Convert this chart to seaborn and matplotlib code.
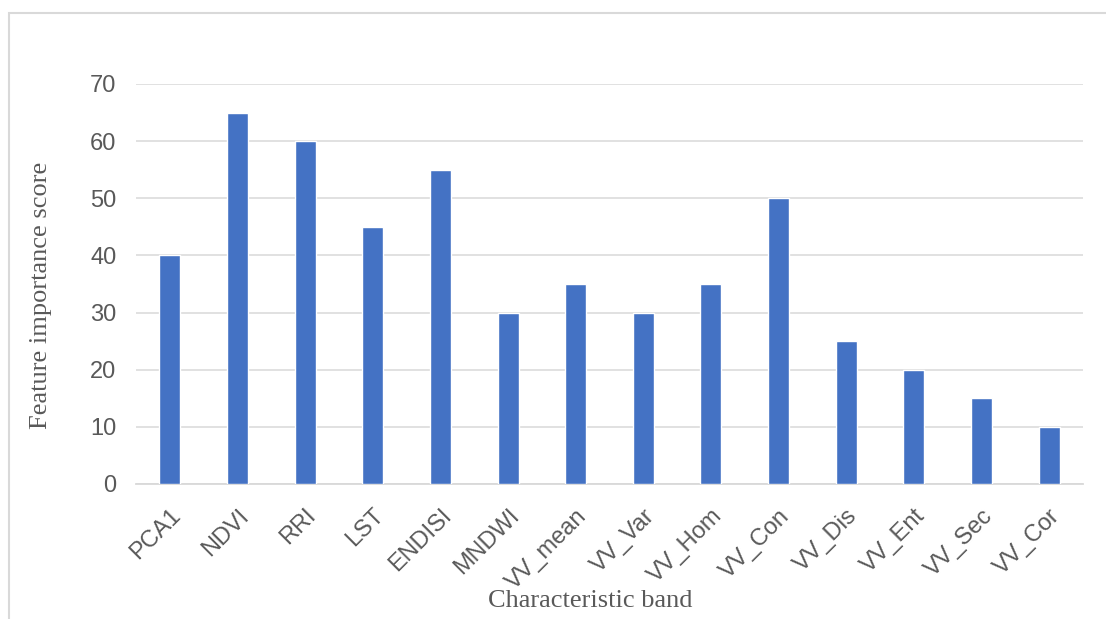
import matplotlib
matplotlib.use("Agg")
import matplotlib.pyplot as plt
import seaborn as sns
import pandas as pd
from matplotlib.patches import Rectangle

bands = ["PCA1", "NDVI", "RRI", "LST", "ENDISI", "MNDWI", "VV_mean", "VV_Var",
         "VV_Hom", "VV_Con", "VV_Dis", "VV_Ent", "VV_Sec", "VV_Cor"]
scores = [40, 65, 60, 45, 55, 30, 35, 30, 35, 50, 25, 20, 15, 10]
yticks = [0, 10, 20, 30, 40, 50, 60, 70]

df = pd.DataFrame({"band": bands, "score": scores})

sns.set_theme(style="white")
plt.rcParams["font.family"] = ["Liberation Sans", "DejaVu Sans"]

W, H = 1106, 619
x0, x1, y0, y1 = 136, 1083, 84, 484  # plot area in pixels
fig = plt.figure(figsize=(W / 100, H / 100), dpi=100)
ax = fig.add_axes([x0 / W, 1 - y1 / H, (x1 - x0) / W, (y1 - y0) / H])

sns.barplot(data=df, x="band", y="score", color="#4472C4", saturation=1,
            width=0.31, ax=ax, zorder=3)

ax.set_ylim(0, 70)
ax.set_yticks(yticks)
ax.set_xlim(-0.5, len(bands) - 0.5)
ax.grid(axis="y", color="#d9d9d9", linewidth=1.1, zorder=0)
for s in ["top", "right", "left"]:
    ax.spines[s].set_visible(False)
ax.spines["bottom"].set_color("#d9d9d9")
ax.spines["bottom"].set_linewidth(1.3)

ax.tick_params(axis="y", length=0, pad=14, labelsize=17, labelcolor="#595959")
ax.tick_params(axis="x", length=0, pad=15, labelsize=17, labelcolor="#595959")
plt.setp(ax.get_xticklabels(), rotation=45, ha="right", rotation_mode="anchor")

ax.set_xlabel("Characteristic band", family="Liberation Serif", fontsize=19,
              color="#595959")
ax.set_ylabel("Feature importance score", family="Liberation Serif", fontsize=19,
              color="#595959")
ax.xaxis.set_label_coords((590 - x0) / (x1 - x0), (y1 - 590) / (y1 - y0))
ax.yaxis.set_label_coords((52 - x0) / (x1 - x0), (y1 - 295) / (y1 - y0))

fig.patches.append(Rectangle((8.5 / W, -0.1), 1.2, 1 - 12.5 / H + 0.1,
                             transform=fig.transFigure, fill=False,
                             edgecolor="#d9d9d9", linewidth=1.5))

fig.savefig("out.png", dpi=100)
